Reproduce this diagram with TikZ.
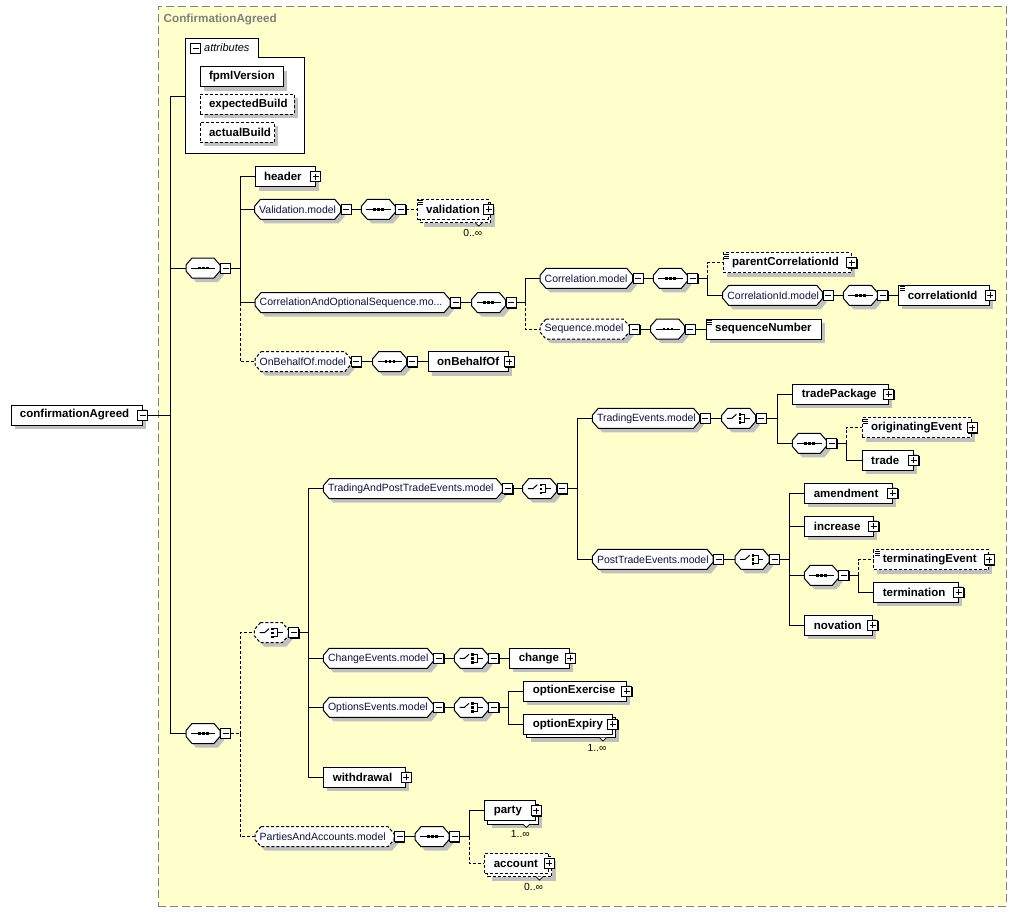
\documentclass[tikz,border=0pt]{standalone}
\usepackage{fontspec}
\setmainfont{Liberation Sans}
\usetikzlibrary{shadows}
\definecolor{bgy}{HTML}{FFFFCC}
\definecolor{shc}{HTML}{C0C0C0}
\definecolor{titlegray}{HTML}{808080}
\definecolor{modeltext}{RGB}{16,16,64}
\newcommand\xelfont{\fontsize{11.5}{13}\selectfont\bfseries}
\newcommand\xmdfont{\fontsize{10.5}{12}\selectfont}
\newcommand\xmufont{\fontsize{10.3}{12}\selectfont}
\tikzset{
  conn/.style={line width=1pt},
  opt/.style={dash pattern=on 3pt off 2pt},
  elbox/.style={draw, fill=white, anchor=west, inner sep=0pt, minimum height=20pt, font=\xelfont, line width=1pt},
  pmbox/.style={draw, fill=white, minimum size=10pt, inner sep=0pt, line width=1pt,
     general shadow={fill=black, shadow xshift=0.8pt, shadow yshift=-0.8pt}},
  hub/.style={anchor=west, inner sep=0pt, minimum height=20pt},
}
% minus / plus icons
\newcommand\xMi[2]{\node[pmbox] (#1) at (#2) {};
  \draw[line width=1pt] ([xshift=-3pt]#1.center) -- ([xshift=3pt]#1.center);}
\newcommand\xPl[2]{\node[pmbox] (#1) at (#2) {};
  \draw[line width=1pt] ([xshift=-3pt]#1.center) -- ([xshift=3pt]#1.center)
     ([yshift=-3pt]#1.center) -- ([yshift=3pt]#1.center);}
% octagon outline + shadow
\newcommand\xOctShape[4]{%
  \fill[shc] (#1+10,#3-6) -- (#2-2,#3-6) -- (#2+4,#3+1) -- (#2+4,#3+7) -- (#2-2,#3+14) -- (#1+10,#3+14) -- (#1+4,#3+7) -- (#1+4,#3+1) -- cycle;
  \draw[fill=white,line width=1pt,#4] (#1+6,#3-10) -- (#2-6,#3-10) -- (#2,#3-3) -- (#2,#3+3) -- (#2-6,#3+10) -- (#1+6,#3+10) -- (#1,#3+3) -- (#1,#3-3) -- cycle;}
% model group
\newcommand\xOct[6][]{%
  \xOctShape{#3}{#4}{#5}{#1}
  \pgfmathsetmacro\xw{#4-#3}
  \node[hub, minimum width=\xw pt, font=\xmdfont, text=modeltext] (#2) at (#3,#5) {\makebox[\xw pt][l]{\hspace{4.5pt}#6}};
  \xMi{#2-m}{#4+5.5,#5}}
% sequence compositor
\newcommand\xSeq[4][]{%
  \xOctShape{#3}{#3+34}{#4}{#1}
  \node[hub, minimum width=34pt] (#2) at (#3,#4) {};
  \draw[line width=1pt] ([xshift=5pt]#2.west) -- ([xshift=-5pt]#2.east);
  \foreach \xk in {-4,0,4} \fill ([xshift=\xk pt]#2.center) ++(-1.3,-1.3) rectangle ++(2.6,2.6);
  \xMi{#2-m}{#3+39.5,#4}}
% choice compositor
\newcommand\xCho[4][]{%
  \xOctShape{#3}{#3+34}{#4}{#1}
  \node[hub, minimum width=34pt] (#2) at (#3,#4) {};
  \begin{scope}[shift={(#2.center)}]
    \draw[line width=1pt] (-12,0) -- (-7,0) -- (-2.5,-4);
    \fill (-0.2,-5.2) rectangle (2.2,-2.8);
    \fill (-0.2,-1.2) rectangle (2.2,1.2);
    \fill (-0.2,2.8) rectangle (2.2,5.2);
    \draw[line width=1pt] (2.2,-4) -- (6,-4) -- (6,4) -- (2.2,4) (6,0) -- (11,0);
  \end{scope}
  \xMi{#2-m}{#3+39.5,#4}}
% element
\newcommand\xEl[6][]{%
  \pgfmathsetmacro\xw{#4-#3}
  \fill[shc] (#3+4,#5-6) rectangle (#4+4,#5+14);
  \node[elbox,#1,minimum width=\xw pt] (#2) at (#3,#5) {\makebox[\xw pt][l]{\hspace{9pt}#6}};}
% repeated element
\newcommand\xStk[7][]{%
  \pgfmathsetmacro\xw{#4-#3}
  \fill[shc] (#3+7.3,#5-2.7) rectangle (#4+7.3,#5+17.3);
  \draw[fill=white,line width=1pt,#1] (#3+3.3,#5-6.7) rectangle (#4+3.3,#5+13.3);
  \node[elbox,#1,minimum width=\xw pt] (#2) at (#3,#5) {\makebox[\xw pt][l]{\hspace{9pt}#6}};
  \draw[fill=white,line width=0.7pt] (#4+3.3-15.5,#5+13.3) -- (#4+3.3-12,#5+16.8) -- (#4+3.3-8.5,#5+13.3);
  \node[font=\xmufont, inner sep=0pt] (#2-n) at (#4+3.3-18,#5+23.5) {#7};
  \xPl{#2-p}{#2.east}}
% simple content mark
\newcommand\xSimp[1]{\foreach \xk in {1.8,3.8,5.8}
  \draw[line width=0.7pt] ([xshift=1.5pt,yshift=-\xk pt]#1.north west) -- ++(5,0);}

\begin{document}
\begin{tikzpicture}[x=1pt,y=-1pt]
\useasboundingbox (0,0) rectangle (1017,911);
% complex type container
\node[draw=titlegray, fill=bgy, line width=1pt, dash pattern=on 8pt off 4pt, minimum width=848pt, minimum height=900pt, inner sep=0pt, anchor=north west] (ctype) at (157.5,5.5) {};
\node[anchor=west, inner sep=0pt, font=\fontsize{11.7}{13}\selectfont\bfseries, text=titlegray] (title) at (163.5,19) {ConfirmationAgreed};

% root
\xEl{root}{10.5}{141.5}{415}{confirmationAgreed}
\xMi{root-m}{root.east}

% attributes
\node[hub, anchor=north west, minimum width=119pt, minimum height=96pt] (attr) at (185.5,57.5) {};
\draw[fill=white,line width=1pt] (attr.south west) -- ([yshift=19pt]attr.north west) -- ++(73,0) -- ++(0,19) -- (attr.north east) -- (attr.south east) -- cycle;
\xMi{attr-m}{195.5,48.5}
\node[anchor=west, inner sep=0pt, font=\fontsize{11}{13}\selectfont\itshape] (attrlbl) at (204,48) {attributes};
\xEl{fpml}{199.5}{282.5}{76.7}{fpmlVersion}
\xEl[opt]{expb}{199.5}{293.5}{104.3}{expectedBuild}
\xEl[opt]{actb}{199.5}{274}{132.3}{actualBuild}

% first sequence
\xSeq{s1}{186}{268}
\xEl{header}{254.5}{314.5}{176.5}{header}\xPl{header-p}{header.east}
\xOct{valm}{254.5}{340.7}{209.3}{Validation.model}
\xSeq{s1v}{361.3}{209.3}
\xStk[opt]{valid}{416.7}{487.5}{209.3}{validation}{0..∞}\xSimp{valid}
\xOct{caos}{255}{450}{302.7}{CorrelationAndOptionalSequence.mo...}
\xSeq{s3}{471.5}{302.7}
\xOct{corr}{540}{632.7}{278.3}{Correlation.model}
\xSeq{s4}{653.3}{278.3}
\xEl[opt]{pci}{722.7}{850.7}{262.7}{parentCorrelationId}\xSimp{pci}\xPl{pci-p}{pci.east}
\xOct{cidm}{722.7}{822.7}{295.3}{CorrelationId.model}
\xSeq{s5}{843.3}{295.3}
\xEl{cid}{898.3}{989}{295.3}{correlationId}\xSimp{cid}\xPl{cid-p}{cid.east}
\xOct[opt]{seqm}{540}{629.3}{329}{Sequence.model}
\xSeq{s6}{650.7}{329}
\xEl{seqn}{705.7}{820.7}{329}{sequenceNumber}\xSimp{seqn}
\xOct[opt]{obo}{255}{350.7}{361.7}{OnBehalfOf.model}
\xSeq{s7}{372.7}{361.7}
\xEl{obe}{427.7}{508.3}{361.7}{onBehalfOf}\xPl{obe-p}{obe.east}

% second sequence
\xSeq{s2}{186}{733.5}
\xCho[opt]{c1}{254.3}{632.7}
\xOct{tapte}{323.3}{502.3}{488.7}{TradingAndPostTradeEvents.model}
\xCho{c2}{522.7}{488.7}
\xOct{tem}{592.3}{699.5}{418.3}{TradingEvents.model}
\xCho{c3}{721.7}{418.3}
\xEl{tp}{792.3}{887.7}{394.3}{tradePackage}\xPl{tp-p}{tp.east}
\xSeq{s8}{792.3}{443.3}
\xEl[opt]{oe}{861.7}{971}{427.7}{originatingEvent}\xSimp{oe}\xPl{oe-p}{oe.east}
\xEl{trade}{861.7}{912.7}{460.3}{trade}\xPl{trade-p}{trade.east}
\xOct{ptem}{592.3}{713}{559.3}{PostTradeEvents.model}
\xCho{c4}{735}{559.3}
\xEl{amd}{804.3}{891.7}{493.3}{amendment}\xPl{amd-p}{amd.east}
\xEl{inc}{804.3}{872.7}{526.3}{increase}\xPl{inc-p}{inc.east}
\xSeq{s9}{804.3}{575.3}
\xEl[opt]{te}{873.3}{988.3}{559.7}{terminatingEvent}\xSimp{te}\xPl{te-p}{te.east}
\xEl{term}{873.3}{957.7}{592.3}{termination}\xPl{term-p}{term.east}
\xEl{nov}{804.3}{871.7}{625.3}{novation}\xPl{nov-p}{nov.east}
\xOct{chg}{323.3}{433.3}{658.3}{ChangeEvents.model}
\xCho{c5}{454.3}{658.3}
\xEl{change}{509.3}{569.3}{658.3}{change}\xPl{change-p}{change.east}
\xOct{opte}{323.3}{433.3}{707.3}{OptionsEvents.model}
\xCho{c6}{454.3}{707.3}
\xEl{oex}{523.3}{625.7}{691}{optionExercise}\xPl{oex-p}{oex.east}
\xStk{oexp}{523.3}{611.7}{724.3}{optionExpiry}{1..∞}
\xEl{wd}{323.3}{405}{777.3}{withdrawal}\xPl{wd-p}{wd.east}
\xOct[opt]{paa}{255}{394}{836.7}{PartiesAndAccounts.model}
\xSeq{s10}{415}{836.7}
\xStk{party}{484.3}{535}{810.7}{party}{1..∞}
\xStk[opt]{acct}{484.3}{548.3}{863.3}{account}{0..∞}

% ---------- connectors ----------
\begin{scope}[conn]
\coordinate (bus0) at (170.5,415);
\coordinate (attrin) at (185.5,96.7);
\draw (root-m.east) -- (bus0);
\draw (attrin) -| (bus0 |- s2.west) -- (s2.west);
\draw (bus0 |- s1.west) -- (s1.west);

\coordinate (b1) at (240,268);
\draw (s1-m.east) -- (b1);
\draw (b1) |- (header.west);
\draw (b1) |- (valm.west);
\draw (b1) |- (caos.west);
\draw[opt] (b1 |- caos.west) |- (obo.west);
\draw (valm-m.east) -- (s1v.west);
\draw[opt] (s1v-m.east) -- (valid.west);
\draw (caos-m.east) -- (s3.west);
\coordinate (b3) at (525.5,302.7);
\draw (s3-m.east) -- (b3);
\draw (b3) |- (corr.west);
\draw[opt] (b3) |- (seqm.west);
\draw (corr-m.east) -- (s4.west);
\coordinate (b4) at (707.5,278.3);
\draw (s4-m.east) -- (b4);
\draw[opt] (b4) |- (pci.west);
\draw (b4) |- (cidm.west);
\draw (cidm-m.east) -- (s5.west);
\draw (s5-m.east) -- (cid.west);
\draw (seqm-m.east) -- (s6.west);
\draw (s6-m.east) -- (seqn.west);
\draw (obo-m.east) -- (s7.west);
\draw (s7-m.east) -- (obe.west);

\coordinate (b2) at (240,733.5);
\draw[opt] (s2-m.east) -- (b2);
\draw[opt] (b2) |- (c1.west);
\draw[opt] (b2) |- (paa.west);
\coordinate (bc1) at (308.5,632.7);
\draw (c1-m.east) -- (bc1);
\draw (bc1) |- (tapte.west);
\draw (bc1) |- (chg.west);
\draw (bc1) |- (opte.west);
\draw (bc1) |- (wd.west);
\draw (tapte-m.east) -- (c2.west);
\coordinate (bc2) at (577.5,488.7);
\draw (c2-m.east) -- (bc2);
\draw (bc2) |- (tem.west);
\draw (bc2) |- (ptem.west);
\draw (tem-m.east) -- (c3.west);
\coordinate (bc3) at (777.3,418.3);
\draw (c3-m.east) -- (bc3);
\draw (bc3) |- (tp.west);
\draw (bc3) |- (s8.west);
\coordinate (b8) at (846,443.3);
\draw (s8-m.east) -- (b8);
\draw[opt] (b8) |- (oe.west);
\draw (b8) |- (trade.west);
\draw (ptem-m.east) -- (c4.west);
\coordinate (bc4) at (789.3,559.3);
\draw (c4-m.east) -- (bc4);
\draw (bc4) |- (amd.west);
\draw (bc4) |- (inc.west);
\draw (bc4) |- (s9.west);
\draw (bc4) |- (nov.west);
\coordinate (b9) at (858.3,575.3);
\draw (s9-m.east) -- (b9);
\draw[opt] (b9) |- (te.west);
\draw (b9) |- (term.west);
\draw (chg-m.east) -- (c5.west);
\draw (c5-m.east) -- (change.west);
\draw (opte-m.east) -- (c6.west);
\coordinate (bc6) at (508.3,707.3);
\draw (c6-m.east) -- (bc6);
\draw (bc6) |- (oex.west);
\draw (bc6) |- (oexp.west);
\draw (paa-m.east) -- (s10.west);
\coordinate (b10) at (469.3,836.7);
\draw (s10-m.east) -- (b10);
\draw (b10) |- (party.west);
\draw[opt] (b10) |- (acct.west);
\end{scope}
\end{tikzpicture}
\end{document}
